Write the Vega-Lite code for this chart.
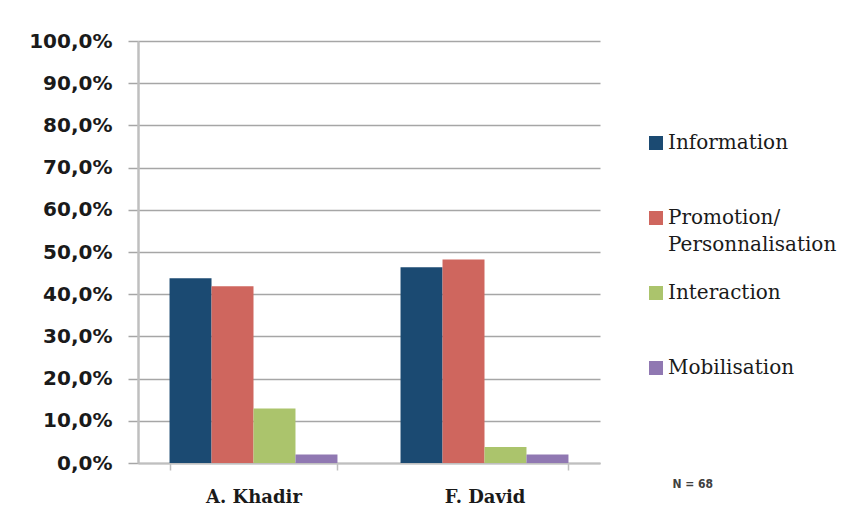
{
  "$schema": "https://vega.github.io/schema/vega-lite/v6.json",
  "width": 462,
  "height": 422,
  "autosize": {"type": "none"},
  "padding": {"left": 138, "top": 41, "right": 262, "bottom": 62},
  "background": "white",
  "title": {
    "text": "N = 68",
    "orient": "bottom",
    "anchor": "end",
    "frame": "group",
    "dx": 113,
    "dy": -31,
    "font": "DejaVu Sans Condensed",
    "fontSize": 12,
    "fontWeight": "bold",
    "color": "#404040"
  },
  "data": {
    "values": [
      {"candidat": "A. Khadir", "categorie": "Information", "part": 0.438},
      {"candidat": "A. Khadir", "categorie": "Promotion/ Personnalisation", "part": 0.419},
      {"candidat": "A. Khadir", "categorie": "Interaction", "part": 0.129},
      {"candidat": "A. Khadir", "categorie": "Mobilisation", "part": 0.02},
      {"candidat": "F. David", "categorie": "Information", "part": 0.464},
      {"candidat": "F. David", "categorie": "Promotion/ Personnalisation", "part": 0.482},
      {"candidat": "F. David", "categorie": "Interaction", "part": 0.038},
      {"candidat": "F. David", "categorie": "Mobilisation", "part": 0.02}
    ]
  },
  "mark": {"type": "bar"},
  "encoding": {
    "x": {
      "field": "candidat",
      "type": "nominal",
      "sort": null,
      "scale": {"paddingInner": 0.273, "paddingOuter": 0.1365},
      "axis": {
        "title": null,
        "labelAngle": 0,
        "labelFont": "DejaVu Serif",
        "labelFontSize": 18,
        "labelFontWeight": "bold",
        "labelColor": "#1a1a1a",
        "labelPadding": 18,
        "tickBand": "extent",
        "tickSize": 7,
        "tickColor": "#bfbfbf",
        "tickWidth": 1.5,
        "domainColor": "#bfbfbf",
        "domainWidth": 2,
        "grid": false
      }
    },
    "xOffset": {
      "field": "categorie",
      "type": "nominal",
      "sort": null,
      "scale": {"paddingInner": 0, "paddingOuter": 0}
    },
    "y": {
      "field": "part",
      "type": "quantitative",
      "scale": {"domain": [0, 1], "nice": false},
      "axis": {
        "title": null,
        "values": [0, 0.1, 0.2, 0.3, 0.4, 0.5, 0.6, 0.7, 0.8, 0.9, 1],
        "labelExpr": "replace(format(datum.value, '.1%'), '.', ',')",
        "labelFont": "DejaVu Sans",
        "labelFontSize": 20,
        "labelFontWeight": "bold",
        "labelColor": "#1a1a1a",
        "labelPadding": 16,
        "tickSize": 10,
        "tickColor": "#a6a6a6",
        "tickWidth": 1.5,
        "domainColor": "#bfbfbf",
        "domainWidth": 2.5,
        "grid": true,
        "gridColor": "#a6a6a6",
        "gridWidth": 1.5
      }
    },
    "color": {
      "field": "categorie",
      "type": "nominal",
      "sort": null,
      "scale": {
        "domain": ["Information", "Promotion/ Personnalisation", "Interaction", "Mobilisation"],
        "range": ["#1b4a72", "#cf665e", "#abc46c", "#9078b2"]
      },
      "legend": {
        "title": null,
        "orient": "none",
        "legendX": 508,
        "legendY": 92,
        "gridAlign": "all",
        "symbolType": "square",
        "symbolSize": 196,
        "symbolStrokeWidth": 0,
        "symbolOpacity": 1,
        "labelFont": "DejaVu Serif",
        "labelFontSize": 20,
        "labelColor": "#1a1a1a",
        "labelOffset": 2,
        "labelLimit": 300,
        "rowPadding": 28,
        "labelExpr": "datum.label == 'Promotion/ Personnalisation' ? ['Promotion/', 'Personnalisation'] : datum.label"
      }
    }
  },
  "config": {
    "view": {"stroke": null},
    "style": {"guide-label": {"lineHeight": 27}}
  }
}
